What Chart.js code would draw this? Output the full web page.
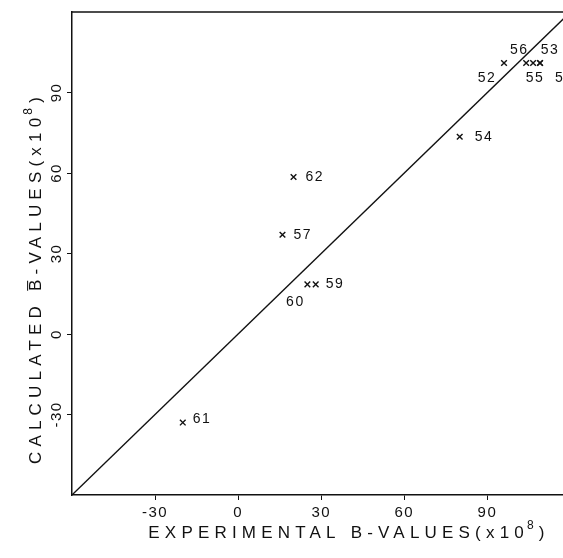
<!DOCTYPE html>
<html>
<head>
<meta charset="utf-8">
<script src="https://cdn.jsdelivr.net/npm/chart.js@4/dist/chart.umd.min.js"></script>
<style>
  html, body { margin: 0; padding: 0; background: #fff; overflow: hidden; }
  #wrap { width: 563px; height: 558px; }
</style>
</head>
<body>
<div id="wrap"><canvas id="c" width="563" height="558"></canvas></div>
<script>
// Compound numbers and their B-values (x10^8)
const compoundIds   = ['52', '53', '54', '55', '56', '57', '58', '59', '60', '61', '62'];
const experimentalB = [96, 109, 80, 106.5, 104, 16, 109, 28, 25, -20, 20];
const calculatedB   = [101, 101, 73.5, 101, 101, 37, 101, 18.5, 18.5, -33, 58.5];

// Axis ticks and ranges
const tickValues = [-30, 0, 30, 60, 90];
const tickLabels = ['-30', '0', '30', '60', '90'];
const xRange = [-60, 117.3];
const yRange = [-60, 120];

// Line of equality (calculated = experimental)
const equalityLine = [-60, 120];

// Axis titles: main text, superscript exponent, closing text
const xTitle = ['EXPERIMENTAL B-VALUES(x10', '8', ')'];
const yTitle = ['CALCULATED B\u0305-VALUES(x10', '8', ')'];

// Where each compound number sits relative to its marker
const labelPlacement = {
  '52': { dx: -17, dy: 15, align: 'center' },
  '53': { dx: 10,  dy: -13, align: 'center' },
  '54': { dx: 15,  dy: 0,  align: 'left' },
  '55': { dx: 2,   dy: 15, align: 'center' },
  '56': { dx: -7,  dy: -13, align: 'center' },
  '57': { dx: 11,  dy: 0,  align: 'left' },
  '58': { dx: 15,  dy: 15, align: 'left' },
  '59': { dx: 10,  dy: 0,  align: 'left' },
  '60': { dx: -12, dy: 18, align: 'center' },
  '61': { dx: 10,  dy: -3, align: 'left' },
  '62': { dx: 12,  dy: 0,  align: 'left' }
};

const FONT = '"Liberation Sans", Arial, sans-serif';
const INK = '#111';

const points = experimentalB.map((x, i) => ({ x: x, y: calculatedB[i] }));
const linePts = equalityLine.map(v => ({ x: v, y: v }));

const fixedTicks = scale => { scale.ticks = tickValues.map(v => ({ value: v })); };

// Draws a title centred on (0,0) of the current transform, with a raised exponent
function drawTitle(ctx, parts) {
  const mainFont = '17px ' + FONT;
  const supFont = '12px ' + FONT;
  ctx.letterSpacing = '5.2px';
  ctx.font = mainFont;
  const w0 = ctx.measureText(parts[0]).width;
  const w2 = ctx.measureText(parts[2]).width;
  ctx.font = supFont;
  const w1 = ctx.measureText(parts[1]).width;
  let x = -(w0 + w1 + w2) / 2;
  ctx.textAlign = 'left';
  ctx.font = mainFont;
  ctx.fillText(parts[0], x, 0);
  x += w0;
  ctx.font = supFont;
  ctx.fillText(parts[1], x - 2, -7);
  x += w1;
  ctx.font = mainFont;
  ctx.fillText(parts[2], x - 2, 0);
}

// Frame top edge, rotated y tick labels, axis titles and point numbers
const annotate = {
  id: 'annotate',
  beforeDraw(chart) { chart.ctx.letterSpacing = '1.5px'; },
  afterDraw(chart) {
    const { ctx, chartArea, scales } = chart;
    ctx.save();
    ctx.strokeStyle = INK;
    ctx.lineWidth = 1.5;
    ctx.beginPath();
    ctx.moveTo(chartArea.left, chartArea.top);
    ctx.lineTo(chartArea.right, chartArea.top);
    ctx.stroke();

    ctx.fillStyle = INK;
    ctx.textBaseline = 'middle';

    // y tick labels, rotated
    ctx.font = '15px ' + FONT;
    ctx.letterSpacing = '1.5px';
    ctx.textAlign = 'center';
    tickValues.forEach((v, i) => {
      const y = scales.y.getPixelForValue(v);
      ctx.save();
      ctx.translate(57, y);
      ctx.rotate(-Math.PI / 2);
      ctx.fillText(tickLabels[i], 0, 0);
      ctx.restore();
    });

    // axis titles
    ctx.save();
    ctx.translate(350, 533);
    drawTitle(ctx, xTitle);
    ctx.restore();
    ctx.save();
    ctx.translate(36, 277);
    ctx.rotate(-Math.PI / 2);
    drawTitle(ctx, yTitle);
    ctx.restore();

    // compound numbers
    ctx.font = '14px ' + FONT;
    ctx.letterSpacing = '1.5px';
    const meta = chart.getDatasetMeta(0);
    meta.data.forEach((el, i) => {
      const id = compoundIds[i];
      const p = labelPlacement[id];
      ctx.textAlign = p.align;
      ctx.fillText(id, el.x + p.dx, el.y + p.dy);
    });
    ctx.restore();
  }
};

new Chart(document.getElementById('c'), {
  type: 'scatter',
  data: {
    datasets: [
      {
        data: points,
        pointStyle: 'crossRot',
        pointRadius: 4,
        pointHoverRadius: 4,
        borderColor: INK,
        backgroundColor: INK,
        borderWidth: 1.4,
        showLine: false
      },
      {
        type: 'line',
        data: linePts,
        borderColor: INK,
        borderWidth: 1.3,
        pointRadius: 0,
        fill: false,
        tension: 0
      }
    ]
  },
  options: {
    responsive: false,
    animation: false,
    devicePixelRatio: 1,
    layout: { autoPadding: false, padding: { top: 12, left: 0, right: 0, bottom: 0 } },
    plugins: { legend: { display: false }, tooltip: { enabled: false } },
    scales: {
      x: {
        type: 'linear',
        min: xRange[0],
        max: xRange[1],
        afterBuildTicks: fixedTicks,
        afterFit(scale) { scale.height = 63; },
        border: { display: true, color: INK, width: 1.5 },
        grid: { drawOnChartArea: false, drawTicks: true, tickLength: 5, color: INK, lineWidth: 1 },
        ticks: {
          color: INK,
          font: { family: FONT, size: 15 },
          padding: 4,
          maxRotation: 0,
          callback: (v) => tickLabels[tickValues.indexOf(v)]
        },
        title: { display: false }
      },
      y: {
        type: 'linear',
        min: yRange[0],
        max: yRange[1],
        afterBuildTicks: fixedTicks,
        afterFit(scale) { scale.width = 72; },
        border: { display: true, color: INK, width: 1.5 },
        grid: { drawOnChartArea: false, drawTicks: true, tickLength: 5, color: INK, lineWidth: 1 },
        ticks: { display: false },
        title: { display: false }
      }
    }
  },
  plugins: [annotate]
});
</script>
</body>
</html>
